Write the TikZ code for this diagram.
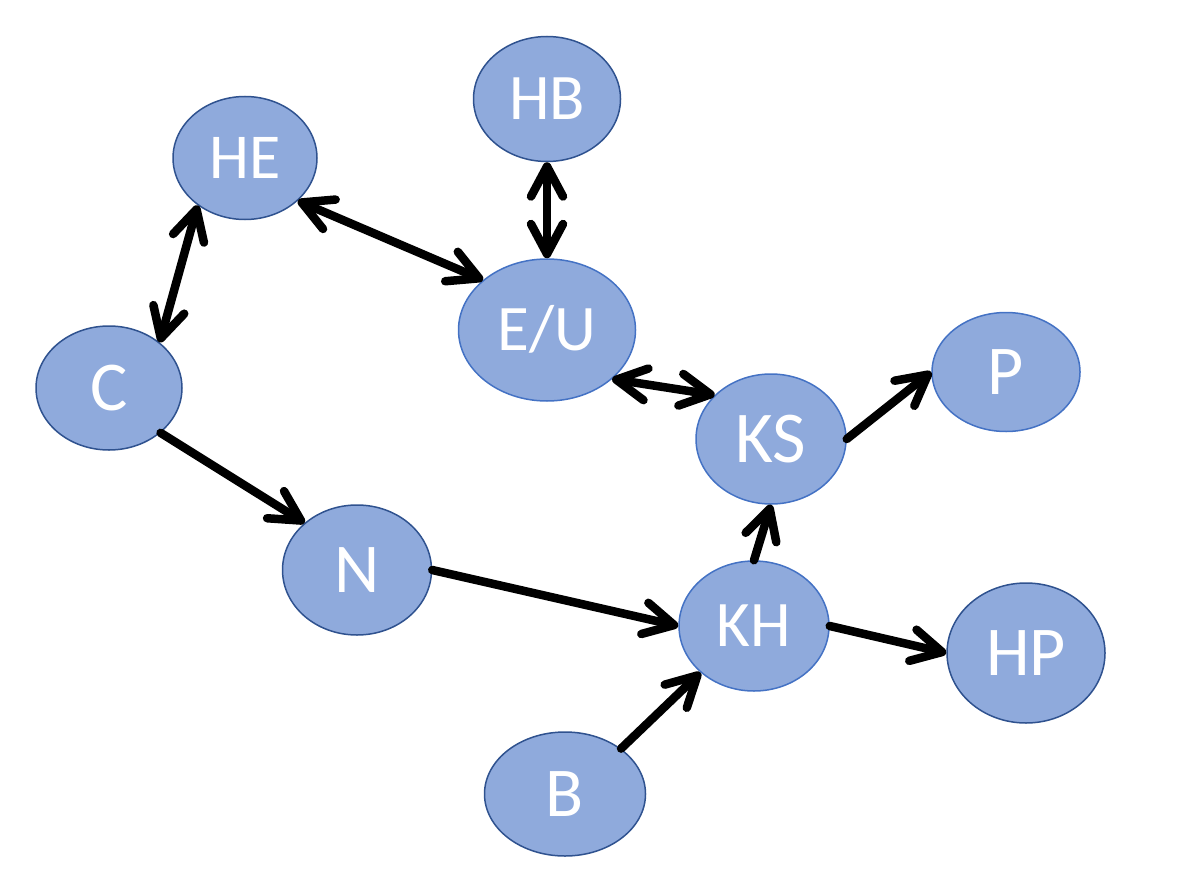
\documentclass[tikz,border=0pt]{standalone}
\usepackage{fontspec}
\setmainfont{Carlito}
\usetikzlibrary{shapes.geometric,arrows.meta}
\definecolor{nodefill}{HTML}{8FAADC}
\definecolor{darkedge}{HTML}{2F528F}
\definecolor{lightedge}{HTML}{4472C4}
\tikzset{
  bub/.style={ellipse, fill=nodefill, draw=darkedge, line width=1.5pt, inner sep=0pt,
    text=white, font=\fontsize{#1}{#1}\selectfont, text height=0.644*#1 pt, text depth=0pt},
  lite/.style={draw=lightedge},
  conn/.style={line width=8.5pt, black, line cap=round,
    arrows={-Straight Barb[length=30pt,width=32pt,line cap=round,line join=round]}},
  biconn/.style={conn, arrows={Straight Barb[length=30pt,width=32pt,line cap=round,line join=round]-Straight Barb[length=30pt,width=32pt,line cap=round,line join=round]}}
}
\begin{document}
\begin{tikzpicture}[x=1pt,y=-1pt]
\useasboundingbox (0,0) rectangle (1198,872);
\node[bub=64, minimum width=144pt, minimum height=123pt] (HE) at (245,158) {HE};
\node[bub=65, minimum width=147pt, minimum height=125pt] (HB) at (547,99) {HB};
\node[bub=70, minimum width=146pt, minimum height=124pt] (C) at (109,388) {C};
\node[bub=65, lite, minimum width=177pt, minimum height=142pt] (EU) at (547,330) {E/U};
\node[bub=70, lite, minimum width=148pt, minimum height=119pt] (P) at (1006,372) {P};
\node[bub=73, lite, minimum width=150pt, minimum height=130pt] (KS) at (771,439) {KS};
\node[bub=70, minimum width=149pt, minimum height=130pt] (N) at (357,570) {N};
\node[bub=65, lite, minimum width=150pt, minimum height=130pt] (KH) at (754,626) {KH};
\node[bub=70, minimum width=158pt, minimum height=140pt] (HP) at (1026,653) {HP};
\node[bub=70, minimum width=161pt, minimum height=124pt] (B) at (565,794) {B};

\draw[biconn] (HE.225) -- (C.42);
\draw[biconn] (HE.-39) -- (EU.142);
\draw[biconn] (HB.south) -- (EU.north);
\draw[biconn] (EU.-37) -- (KS.142);
\draw[conn] (KS.east) -- (P.west);
\draw[conn] (C.-41) -- (N.138);
\draw[conn] (N.east) -- (KH.west);
\draw[conn] (KH.north) -- (KS.south);
\draw[conn] (KH.east) -- (HP.west);
\draw[conn] (B.39) -- (KH.221);
\end{tikzpicture}
\end{document}
